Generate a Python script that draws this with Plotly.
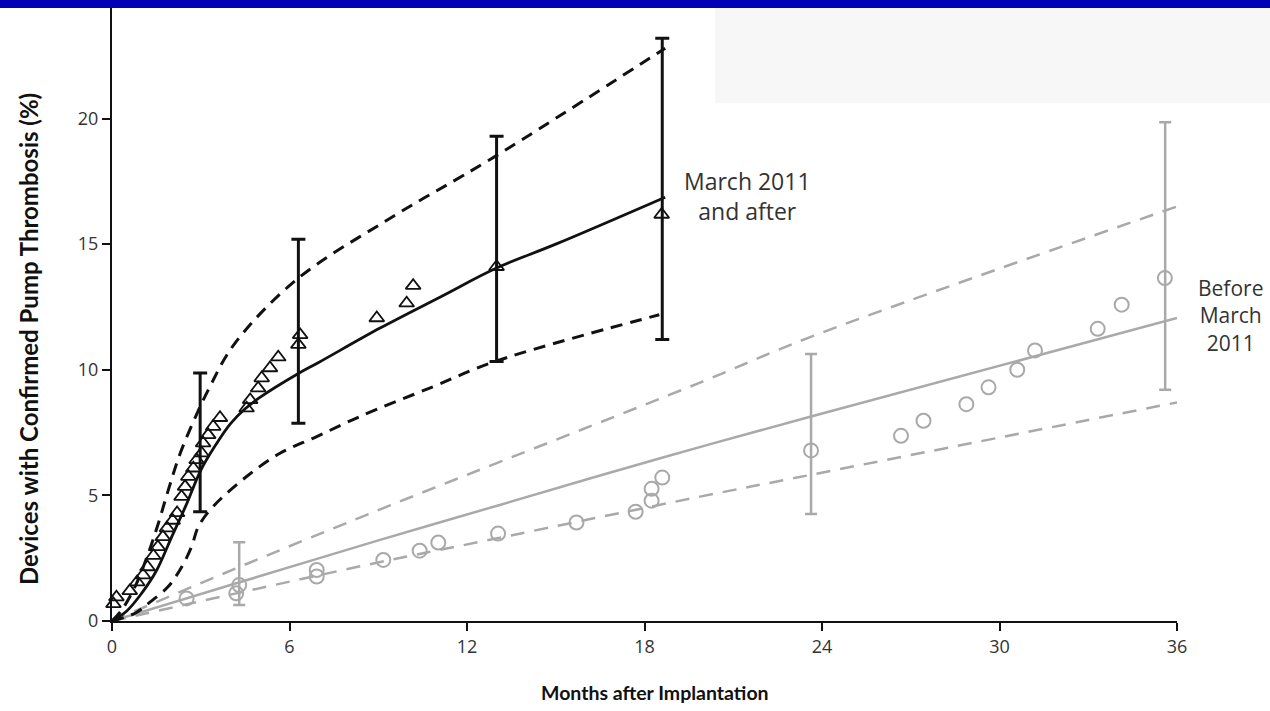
import plotly.graph_objects as go

# ---------------- data ----------------
# March 2011 and after (black)
after_x = [0.05, 0.15, 0.6, 0.85, 1.05, 1.2, 1.4, 1.55, 1.72, 1.86, 2.05, 2.2, 2.35, 2.47, 2.58,
           2.75, 2.86, 3.03, 3.08, 3.25, 3.42, 3.65, 4.55, 4.67, 4.94, 5.06, 5.34, 5.62,
           6.3, 6.36, 8.95, 9.96, 10.18, 13.0, 18.58]
after_y = [0.68, 0.95, 1.2, 1.55, 1.83, 2.15, 2.6, 2.95, 3.35, 3.7, 4.0, 4.3, 4.95, 5.35, 5.75,
           6.08, 6.41, 6.68, 7.08, 7.41, 7.74, 8.09, 8.47, 8.8, 9.27, 9.67, 10.07, 10.5,
           11.0, 11.39, 12.06, 12.65, 13.35, 14.1, 16.18]

after_fit_x = [0, 0.5, 1.0, 1.5, 2.0, 2.5, 3.0, 3.5, 4.0, 4.5, 5.0, 6.3, 7.0, 9.06, 11.1, 13.0, 15.0, 18.7]
after_fit_y = [0, 0.4, 1.1, 2.0, 3.3, 4.6, 6.0, 7.0, 7.85, 8.45, 8.9, 9.85, 10.3, 11.66, 12.9, 14.05, 15.0, 16.87]

after_up_x = [0, 0.33, 0.78, 1.23, 1.57, 1.9, 2.35, 3.31, 4.16, 6.24, 9.5, 12.78, 18.7]
after_up_y = [0, 0.44, 1.37, 2.7, 3.9, 5.2, 6.81, 9.33, 11.06, 13.59, 16.1, 18.37, 22.8]

after_lo_x = [0, 0.78, 1.23, 1.9, 2.36, 2.69, 2.92, 3.42, 4.55, 5.68, 6.92, 8.38, 10.86, 12.95, 18.5]
after_lo_y = [0, 0.31, 0.7, 1.37, 2.16, 2.96, 3.76, 4.56, 5.75, 6.68, 7.34, 8.14, 9.33, 10.33, 12.19]

after_err_x = [2.98, 6.3, 13.0, 18.6]
after_err_lo = [4.35, 7.87, 10.33, 11.2]
after_err_hi = [9.87, 15.2, 19.3, 23.2]

# Before March 2011 (grey)
before_x = [2.52, 4.2, 4.3, 6.92, 6.92, 9.17, 10.4, 11.03, 13.05, 15.7, 17.7, 18.24, 18.24, 18.6,
            23.63, 26.67, 27.43, 28.88, 29.63, 30.6, 31.2, 33.32, 34.13, 35.59]
before_y = [0.9, 1.1, 1.43, 1.77, 2.03, 2.43, 2.8, 3.12, 3.48, 3.92, 4.35, 4.79, 5.26, 5.71,
            6.79, 7.37, 7.97, 8.63, 9.3, 10.0, 10.77, 11.63, 12.59, 13.65]

before_fit_x = [0, 4.2, 9.06, 13.05, 18.53, 23.63, 36]
before_fit_y = [0, 1.5, 3.23, 4.6, 6.48, 8.14, 12.06]

before_up_x = [0, 4.2, 9.4, 19.9, 23.6, 36]
before_up_y = [0, 2.1, 4.6, 9.5, 11.3, 16.5]

before_lo_x = [0, 4.2, 9.4, 11.76, 19.88, 23.63, 36]
before_lo_y = [0, 1.1, 2.43, 2.99, 4.95, 5.82, 8.7]

before_err_x = [4.3, 23.63, 35.6]
before_err_lo = [0.64, 4.26, 9.2]
before_err_hi = [3.13, 10.63, 19.85]

x_ticks = [0, 6, 12, 18, 24, 30, 36]
y_ticks = [0, 5, 10, 15, 20]

label_after = "March 2011<br>and after"
label_before = "Before<br>March<br>2011"
x_title = "Months after Implantation"
y_title = "Devices with Confirmed Pump Thrombosis (%)"

BLACK = "#111111"
GREY = "#a9a9a9"
TXT = "#333333"

fig = go.Figure()

# ---- grey series ----
fig.add_trace(go.Scatter(x=before_up_x, y=before_up_y, mode="lines", line_shape="spline",
                         line=dict(color=GREY, width=2.5, dash="14px,10px"), cliponaxis=False))
fig.add_trace(go.Scatter(x=before_lo_x, y=before_lo_y, mode="lines", line_shape="spline",
                         line=dict(color=GREY, width=2.5, dash="14px,10px"), cliponaxis=False))
fig.add_trace(go.Scatter(x=before_fit_x, y=before_fit_y, mode="lines", line_shape="spline",
                         line=dict(color=GREY, width=2.5), cliponaxis=False))
fig.add_trace(go.Scatter(
    x=before_err_x, y=before_err_lo, mode="markers", marker=dict(size=1, color="rgba(0,0,0,0)"),
    error_y=dict(type="data", symmetric=False,
                 array=[h - l for h, l in zip(before_err_hi, before_err_lo)],
                 arrayminus=[0] * len(before_err_x),
                 color=GREY, thickness=2.5, width=6),
    cliponaxis=False))
fig.add_trace(go.Scatter(x=before_x, y=before_y, mode="markers",
                         marker=dict(symbol="circle-open", size=14, color=GREY, line=dict(width=2)),
                         cliponaxis=False))

# ---- black series ----
fig.add_trace(go.Scatter(x=after_up_x, y=after_up_y, mode="lines", line_shape="spline",
                         line=dict(color=BLACK, width=3, dash="12px,8px"), cliponaxis=False))
fig.add_trace(go.Scatter(x=after_lo_x, y=after_lo_y, mode="lines", line_shape="spline",
                         line=dict(color=BLACK, width=3, dash="12px,8px"), cliponaxis=False))
fig.add_trace(go.Scatter(x=after_fit_x, y=after_fit_y, mode="lines", line_shape="spline",
                         line=dict(color=BLACK, width=2.8), cliponaxis=False))
fig.add_trace(go.Scatter(
    x=after_err_x, y=after_err_lo, mode="markers", marker=dict(size=1, color="rgba(0,0,0,0)"),
    error_y=dict(type="data", symmetric=False,
                 array=[h - l for h, l in zip(after_err_hi, after_err_lo)],
                 arrayminus=[0] * len(after_err_x),
                 color=BLACK, thickness=3, width=7),
    cliponaxis=False))
fig.add_trace(go.Scatter(x=after_x, y=after_y, mode="markers",
                         marker=dict(symbol="triangle-up-open", size=13, color=BLACK, line=dict(width=1.8)),
                         cliponaxis=False))

W_PLOT = 1065.0
H_PLOT = 613.0

fig.update_layout(
    width=1270, height=711,
    margin=dict(l=112, r=93, t=8, b=90),
    paper_bgcolor="white", plot_bgcolor="white",
    showlegend=False,
    font=dict(family="Open Sans", color=TXT, size=18),
    xaxis=dict(range=[0, 36], tickvals=x_ticks, ticktext=[str(v) for v in x_ticks],
               showgrid=False, zeroline=False, showline=True, linecolor=BLACK, linewidth=2,
               ticks="outside", ticklen=8, tickwidth=2, tickcolor=BLACK,
               tickfont=dict(family="Open Sans", size=18, color=TXT)),
    yaxis=dict(range=[0, 24.4], tickvals=y_ticks, ticktext=[str(v) for v in y_ticks],
               showgrid=False, zeroline=False, showline=True, linecolor=BLACK, linewidth=2,
               ticks="outside", ticklen=8, tickwidth=2, tickcolor=BLACK,
               tickfont=dict(family="Open Sans", size=18, color=TXT)),
    shapes=[
        dict(type="rect", xref="paper", yref="paper",
             x0=-112 / W_PLOT, x1=1 + 93 / W_PLOT, y0=1 + 0 / H_PLOT, y1=1 + 8 / H_PLOT,
             fillcolor="#0000b4", line=dict(width=0), layer="above"),
        dict(type="rect", xref="paper", yref="paper",
             x0=(715 - 112) / W_PLOT, x1=1 + 93 / W_PLOT, y0=1 - 95 / H_PLOT, y1=1,
             fillcolor="#f7f7f7", line=dict(width=0), layer="below"),
    ],
    annotations=[
        dict(x=21.47, y=16.9, xref="x", yref="y", text=label_after, showarrow=False,
             xanchor="center", yanchor="middle",
             align="center", font=dict(family="Open Sans", size=23, color=TXT)),
        dict(x=(1230 - 112) / W_PLOT, y=(621 - 315) / H_PLOT, xref="paper", yref="paper",
             text=label_before, showarrow=False, align="center",
             xanchor="center", yanchor="middle",
             font=dict(family="Open Sans", size=21, color=TXT)),
        dict(x=(655 - 112) / W_PLOT, y=-(692 - 621) / H_PLOT, xref="paper", yref="paper",
             text="<b>" + x_title + "</b>", showarrow=False,
             xanchor="center", yanchor="middle",
             font=dict(family="Lato", size=19.5, color="#111111")),
        dict(x=(28 - 112) / W_PLOT, y=(621 - 339) / H_PLOT, xref="paper", yref="paper",
             text="<b>" + y_title + "</b>", showarrow=False, textangle=-90,
             xanchor="center", yanchor="middle",
             font=dict(family="Lato", size=24, color="#111111")),
    ],
)

fig.write_html("out.html", config={"displayModeBar": False},
               post_script="document.body.style.margin='0';document.body.style.overflow='hidden';")
